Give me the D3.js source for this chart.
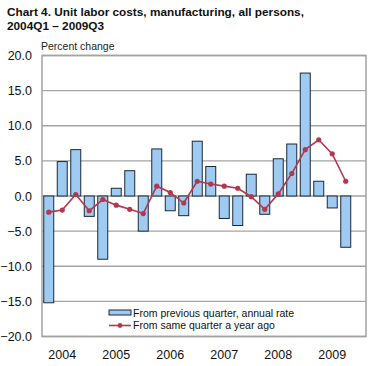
<!DOCTYPE html>
<html>
<head>
<meta charset="utf-8">
<script src="https://cdn.jsdelivr.net/npm/d3@7"></script>
<style>
  body { margin: 0; background: #fff; }
  svg { display: block; font-family: "Liberation Sans", Arial, sans-serif; }
</style>
</head>
<body>
<script>
const svgWidth = 372,
    svgHeight = 366,
    plot = { left: 42, right: 366, top: 55.5, bottom: 336.5 };

// quarters 2004Q1 .. 2009Q3
const quarters = ["2004Q1", "2004Q2", "2004Q3", "2004Q4",
    "2005Q1", "2005Q2", "2005Q3", "2005Q4",
    "2006Q1", "2006Q2", "2006Q3", "2006Q4",
    "2007Q1", "2007Q2", "2007Q3", "2007Q4",
    "2008Q1", "2008Q2", "2008Q3", "2008Q4",
    "2009Q1", "2009Q2", "2009Q3"];

// from previous quarter, annual rate
const prevQuarter = [-15.2, 4.9, 6.6, -2.9,
    -9.0, 1.1, 3.6, -5.0,
    6.7, -2.1, -2.8, 7.8,
    4.2, -3.2, -4.2, 3.1,
    -2.6, 5.3, 7.4, 17.5,
    2.1, -1.7, -7.3];

// from same quarter a year ago
const yearAgo = [-2.3, -2.0, 0.2, -2.1,
    -0.5, -1.3, -1.9, -2.5,
    1.4, 0.5, -1.0, 2.1,
    1.7, 1.4, 1.1, -0.1,
    -1.9, 0.3, 3.2, 6.6,
    8.0, 6.0, 2.1];

const years = ["2004", "2005", "2006", "2007", "2008", "2009"];
const yTicks = [20, 15, 10, 5, 0, -5, -10, -15, -20];

const legendLabels = ["From previous quarter, annual rate", "From same quarter a year ago"];

const barFill = "#9fcbf2",
    barStroke = "#1b2838",
    lineColor = "#b3384f",
    gridColor = "#a3a3a3";

var svg = d3.select("body").append("svg")
    .attr("width", svgWidth)
    .attr("height", svgHeight);

// 24 slots (last quarter of 2009 is empty)
var x = d3.scaleBand()
    .domain(d3.range(24))
    .range([plot.left, plot.right])
    .paddingInner(0.26)
    .paddingOuter(0.13);

var y = d3.scaleLinear()
    .domain([-20, 20])
    .range([plot.bottom, plot.top]);

// title
svg.append("text")
    .attr("x", 7).attr("y", 16)
    .attr("font-size", 11.8).attr("font-weight", "bold").attr("fill", "#111")
    .text("Chart 4. Unit labor costs, manufacturing, all persons,");
svg.append("text")
    .attr("x", 7).attr("y", 29.5)
    .attr("font-size", 11.8).attr("font-weight", "bold").attr("fill", "#111")
    .text("2004Q1 \u2013 2009Q3");

svg.append("text")
    .attr("x", 41).attr("y", 50)
    .attr("font-size", 10.5).attr("fill", "#222")
    .text("Percent change");

// grid lines
svg.append("g")
    .selectAll("line")
    .data(yTicks).enter()
    .append("line")
    .attr("x1", plot.left).attr("x2", plot.right)
    .attr("y1", function (d) { return y(d); })
    .attr("y2", function (d) { return y(d); })
    .attr("stroke", gridColor)
    .attr("stroke-width", 1.3);

// y labels
svg.append("g")
    .selectAll("text")
    .data(yTicks).enter()
    .append("text")
    .attr("x", 32)
    .attr("y", function (d) { return y(d); })
    .attr("dy", "0.36em")
    .attr("text-anchor", "end")
    .attr("font-size", 12.5)
    .attr("fill", "#111")
    .text(function (d) { return d3.format(".1f")(d); });

// bars
svg.append("g")
    .selectAll("rect")
    .data(prevQuarter).enter()
    .append("rect")
    .attr("x", function (d, i) { return x(i); })
    .attr("width", x.bandwidth())
    .attr("y", function (d) { return y(Math.max(0, d)); })
    .attr("height", function (d) { return Math.abs(y(d) - y(0)); })
    .attr("fill", barFill)
    .attr("stroke", barStroke)
    .attr("stroke-width", 1);

// line
var cx = function (d, i) { return x(i) + x.bandwidth() / 2; };

svg.append("path")
    .datum(yearAgo)
    .attr("fill", "none")
    .attr("stroke", lineColor)
    .attr("stroke-width", 1.6)
    .attr("d", d3.line().x(cx).y(function (d) { return y(d); }));

svg.append("g")
    .selectAll("circle")
    .data(yearAgo).enter()
    .append("circle")
    .attr("cx", cx)
    .attr("cy", function (d) { return y(d); })
    .attr("r", 2.6)
    .attr("fill", lineColor);

// plot border
svg.append("rect")
    .attr("x", plot.left).attr("y", plot.top)
    .attr("width", plot.right - plot.left)
    .attr("height", plot.bottom - plot.top)
    .attr("fill", "none")
    .attr("stroke", gridColor)
    .attr("stroke-width", 1.5);

// x labels, centred on the second quarter of each year
svg.append("g")
    .selectAll("text")
    .data(years).enter()
    .append("text")
    .attr("x", function (d, i) { return x(i * 4 + 1) + x.bandwidth() / 2; })
    .attr("y", 359)
    .attr("text-anchor", "middle")
    .attr("font-size", 12.5)
    .attr("fill", "#111")
    .text(function (d) { return d; });

// legend
var legend = svg.append("g").attr("font-size", 10.5).attr("fill", "#111");
legend.append("rect")
    .attr("x", 109).attr("y", 310)
    .attr("width", 22).attr("height", 5)
    .attr("fill", barFill)
    .attr("stroke", barStroke)
    .attr("stroke-width", 1);
legend.append("line")
    .attr("x1", 109).attr("x2", 131)
    .attr("y1", 325.5).attr("y2", 325.5)
    .attr("stroke", lineColor)
    .attr("stroke-width", 1.6);
legend.append("circle")
    .attr("cx", 120).attr("cy", 325.5).attr("r", 2.4)
    .attr("fill", lineColor);
legend.selectAll("text")
    .data(legendLabels).enter()
    .append("text")
    .attr("x", 133)
    .attr("y", function (d, i) { return 313 + i * 12.5; })
    .attr("dy", "0.36em")
    .text(function (d) { return d; });
</script>
</body>
</html>
